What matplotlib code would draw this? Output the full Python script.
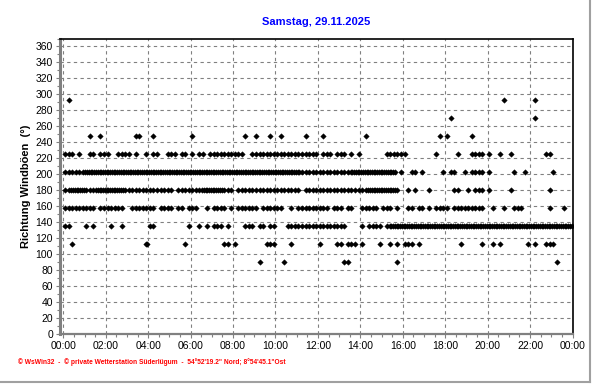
import matplotlib
matplotlib.use("Agg")
import matplotlib.pyplot as plt
from matplotlib.lines import Line2D
from matplotlib.ticker import MultipleLocator

plt.rcParams['font.family'] = ['Liberation Sans', 'DejaVu Sans']

# Windböen-Richtung: ein Zeichen je 10 Minuten, 6 je Stunde
# '.' kein Wert, 'o' ein Wert, '#' zwei Werte im Intervall
r292 = (".o.... ...... ...... ...... ...... ...... "
        "...... ...... ...... ...... ...... ...... "
        "...... ...... ...... ...... ...... ...... "
        "...... ...... ....o. ...... .o.... ......")
r270 = ("...... ...... ...... ...... ...... ...... "
        "...... ...... ...... ...... ...... ...... "
        "...... ...... ...... ...... ...... ...... "
        ".o.... ...... ...... ...... .o.... ......")
r247 = ("...... .o..o. ...... ..oo.. .o.... ...... "
        "o..... ...... ...o.. o...o. .o.... ..o... "
        ".o.... ...... .o.... ...... ...... ....o. "
        "o..... .o.... ...... ...... ...... ......")
r225 = ("ooo.o. .oo.oo o..ooo o.o..o .oo..o oo.oo. "
        "o.oo.o oooooo ooo..o oooooo oooooo oooooo "
        ".ooo.o oo.o.o ...... .ooooo o..... ...o.. "
        "...o.. .oooo. o..o.. o..... ....oo ......")
r202 = ("oooooo ###### ###### ###### ###### ###### "
        "###### ###### ###### ###### ###### #ooooo "
        "oooooo ooo### ###### ####.o ..oo.o .....o "
        ".oo..o .oooo. o..... .o..o. ...... o.....")
r180 = ("oo#### ooo### #####o oooooo oooooo o.oooo "
        "ooo### ###ooo .ooooo oooooo oooooo o.oooo "
        "oooooo oooooo oo#### ####o. .o.o.. .o.... "
        "..oo.. o.ooo. o..... o..... .....o ......")
r157 = ("oooooo ooo.oo ooooo. .ooooo oo.ooo o.oo.o "
        "oo..o. oooo.o .ooooo o.oooo oo..o. oooooo "
        "ooo.oo o.oo.. ooooo. ooo.o. .oo.oo .o.ooo "
        "o.oooo ooooo. .o..o. .ooo.. .....o ...o..")
r135 = ("oo.... o.o... .o..o. ...... oo.... .....o "
        "..o.o. ooo.o. ...ooo .oo.oo ...ooo oooooo "
        "oooooo oo.... o.oooo .o#### ###### ###### "
        "###### ###### ###### ###### ###### ######")
r112 = ("..o... ...... ...... .....# ...... ....o. "
        "...... ...oo. o..... ...ooo ....o. ...... "
        "o....o o.ooo. o....o ..o.o. ooo.o. ...... "
        "....o. ....o. .o.o.. .....o .o..oo o.....")
r90 = ("...... ...... ...... ...... ...... ...... "
       "...... ...... ...... .o.... ..o... ...... "
       "...... .oo... ...... ....o. ...... ...... "
       "...... ...... ...... ...... ...... .o....")

directions = [292.5, 270, 247.5, 225, 202.5, 180, 157.5, 135, 112.5, 90]
masks = [r292, r270, r247, r225, r202, r180, r157, r135, r112, r90]

xticks = list(range(0, 25, 2))
xlabels = ["%02d:00" % (h % 24) for h in xticks]
yticks = list(range(0, 361, 20))


def mask_times(mask):
    s = mask.replace(" ", "")
    out = []
    for i, c in enumerate(s):
        if c == "o":
            out.append((i * 10 + 5) / 60)
        elif c == "#":
            out.append((i * 10 + 2.5) / 60)
            out.append((i * 10 + 7.5) / 60)
    return out


W, H = 592, 384
fig = plt.figure(figsize=(W / 100, H / 100), dpi=100)
left, right, top, bottom = 60, 572.5, 38.5, 334
ax = fig.add_axes([left / W, 1 - bottom / H, (right - left) / W, (bottom - top) / H])

for d, m in zip(directions, masks):
    t = mask_times(m)
    ax.plot(t, [d] * len(t), linestyle="none", marker="D", ms=2.8,
            color="black", mew=0.3, mec="black", zorder=3)

ax.set_xlim(-0.156, 24)
ax.set_ylim(0, 370)
ax.set_xticks(xticks)
ax.set_xticklabels(xlabels)
ax.xaxis.set_minor_locator(MultipleLocator(0.5))
ax.set_yticks(yticks)
ax.yaxis.set_minor_locator(MultipleLocator(10))

ax.grid(True, which="major", linestyle=(0, (3, 3)), color="#808080", lw=0.8)
ax.set_axisbelow(True)

for s in ["top", "right"]:
    ax.spines[s].set_color("black")
    ax.spines[s].set_linewidth(1.2)
ax.spines["left"].set_color("#808080")
ax.spines["left"].set_linewidth(2.2)
ax.spines["bottom"].set_color("#808080")
ax.spines["bottom"].set_linewidth(1.6)

ax.tick_params(which="major", length=3, width=0.8, color="#808080",
               labelsize=7.5, pad=2)
ax.tick_params(which="minor", length=2, width=0.8, color="#808080")

ax.set_ylabel("Richtung Windböen  (°)", fontsize=8, fontweight="bold")
ax.yaxis.set_label_coords((31 - left) / (right - left), 0.5)

fig.text(316 / W, 1 - 22 / H, "Samstag, 29.11.2025", ha="center", va="center",
         color="#0000ff", fontsize=8, fontweight="bold")
fig.text(18 / W, 1 - 362 / H,
         "\u00a9 WsWin32  -  \u00a9 private Wetterstation Süderlügum  -  "
         "54°52'19.2\" Nord; 8°54'45.1\"Ost",
         ha="left", va="center", color="red", fontsize=4.8, fontweight="bold")

# grauer Rahmen rechts und unten
fig.add_artist(Line2D([589.5 / W, 589.5 / W], [1 - 381.5 / H, 1],
                      color="#a0a0a0", lw=1.5, transform=fig.transFigure))
fig.add_artist(Line2D([0, 589.5 / W], [1 - 381.5 / H, 1 - 381.5 / H],
                      color="#a0a0a0", lw=1.5, transform=fig.transFigure))

fig.savefig("out.png", dpi=100)
